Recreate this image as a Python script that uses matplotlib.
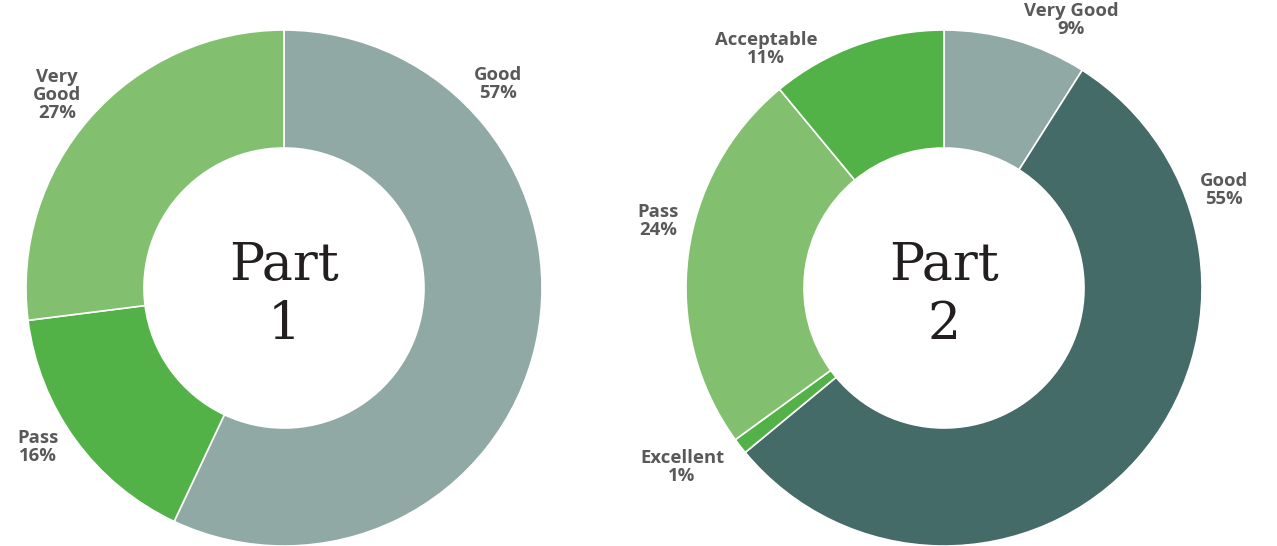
import matplotlib.pyplot as plt

# data
part1_labels = ["Good", "Pass", "Very\nGood"]
part1_values = [57, 16, 27]
part1_colors = ["#91a9a4", "#52b247", "#82c06f"]

part2_labels = ["Very Good", "Good", "Excellent", "Pass", "Acceptable"]
part2_values = [9, 55, 1, 24, 11]
part2_colors = ["#91a9a4", "#446b67", "#52b247", "#82c06f", "#52b247"]

# label anchor positions (pixels, top-left origin)
part1_label_pos = [(498, 84), (38, 447), (57, 95)]
part2_label_pos = [(1071, 20), (1224, 190), (682, 467), (658, 221), (766, 49)]

W, H = 1277, 546
fig = plt.figure(figsize=(W / 100, H / 100), dpi=100)
ax = fig.add_axes([0, 0, 1, 1])
ax.set_xlim(0, W)
ax.set_ylim(0, H)
ax.set_aspect("equal")
ax.axis("off")

outer_r = 258
ring = 118


def donut(values, colors, labels, label_pos, cx, cy, title):
    ax.pie(values, colors=colors, radius=outer_r, center=(cx, H - cy),
           startangle=90, counterclock=False,
           wedgeprops=dict(width=ring, edgecolor="white", linewidth=1.2))
    for lab, v, (x, y) in zip(labels, values, label_pos):
        ax.text(x, H - y, f"{lab}\n{v}%", ha="center", va="center",
                fontsize=13.3, fontweight="bold", color="#595959",
                family="Open Sans", linespacing=1.0)
    ax.text(cx, H - cy - 7, title, ha="center", va="center", fontsize=37.5,
            family="DejaVu Serif", color="#231f20", linespacing=1.2)


donut(part1_values, part1_colors, part1_labels, part1_label_pos, 284, 288, "Part\n1")
donut(part2_values, part2_colors, part2_labels, part2_label_pos, 944, 288, "Part\n2")

ax.set_xlim(0, W)
ax.set_ylim(0, H)

fig.savefig("out.png", dpi=100)
